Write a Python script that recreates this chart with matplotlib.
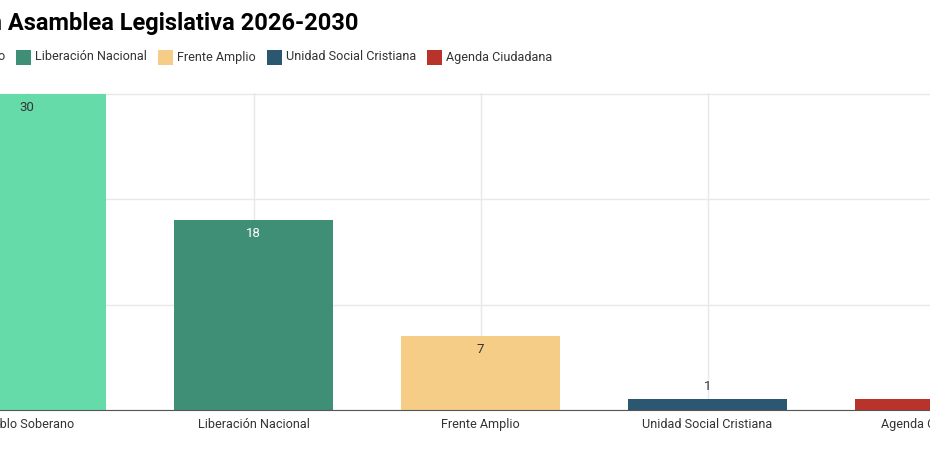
import matplotlib.pyplot as plt
from matplotlib.colors import to_rgb
from matplotlib.patches import Rectangle

partidos = ["Pueblo Soberano", "Liberación Nacional", "Frente Amplio",
            "Unidad Social Cristiana", "Agenda Ciudadana"]
diputados = [30, 18, 7, 1, 1]
colores = ["#66dbaa", "#3f8f76", "#f6cd86", "#2b5870", "#b8332a"]
titulo = "Diputados por partido en Asamblea Legislativa 2026-2030"

plt.rcParams['font.family'] = ['Roboto', 'DejaVu Sans']
TXT = '#333333'
FS = 9.1

W, H = 930, 450
fig = plt.figure(figsize=(W / 100, H / 100), dpi=100)

# the chart is a crop of a wider one, so the axes run past both figure edges
ax = fig.add_axes([-87 / W, 40 / H, 1135 / W, 317 / H])
x = list(range(len(partidos)))
ax.bar(x, diputados, width=0.7, color=colores, zorder=2)
ax.set_xlim(-0.5, 4.5)
ax.set_ylim(0, 30.1)
ax.set_yticks([0, 10, 20, 30])
ax.set_xticks(x)
ax.set_xticklabels(partidos, fontsize=FS, color=TXT)
ax.tick_params(axis='x', length=0, pad=6)
ax.tick_params(axis='y', length=0, labelleft=False)
ax.grid(color='#e8e8e8', linewidth=1)
ax.set_axisbelow(True)
for s in ['top', 'right', 'left']:
    ax.spines[s].set_visible(False)
ax.spines['bottom'].set_color('#555555')
ax.spines['bottom'].set_zorder(3)

for i, (v, c) in enumerate(zip(diputados, colores)):
    r, g, b = to_rgb(c)
    lum = 0.299 * r + 0.587 * g + 0.114 * b
    if v > 3:
        off, col = -9.5, ('white' if lum < 0.5 else TXT)
    else:
        off, col = 9, TXT
    ax.annotate(str(v), (i, v), xytext=(0, off), textcoords='offset points',
                ha='center', va='center', fontsize=FS + 0.4, color=col, zorder=4)

# title, right end fixed where the visible part ends
fig.text(358 / W, 1 - 30 / H, titulo, ha='right', va='baseline',
         fontsize=17, fontweight='bold', color='black')

# legend drawn by hand; second item's swatch starts at 16 px
renderer = fig.canvas.get_renderer()
sq, gap_t, gap_i, ly = 15, 4, 11, 57
widths = []
for p in partidos:
    t = fig.text(0, 0, p, fontsize=FS)
    widths.append(t.get_window_extent(renderer).width)
    t.remove()
xpos = 16 - (sq + gap_t + widths[0] + gap_i)
for p, c, w in zip(partidos, colores, widths):
    fig.patches.append(Rectangle((xpos / W, 1 - (ly + sq / 2) / H), sq / W, sq / H,
                                 transform=fig.transFigure, facecolor=c,
                                 edgecolor='none'))
    fig.text((xpos + sq + gap_t) / W, 1 - ly / H, p, ha='left', va='center',
             fontsize=FS, color=TXT)
    xpos += sq + gap_t + w + gap_i

fig.savefig('out.png', dpi=100)
